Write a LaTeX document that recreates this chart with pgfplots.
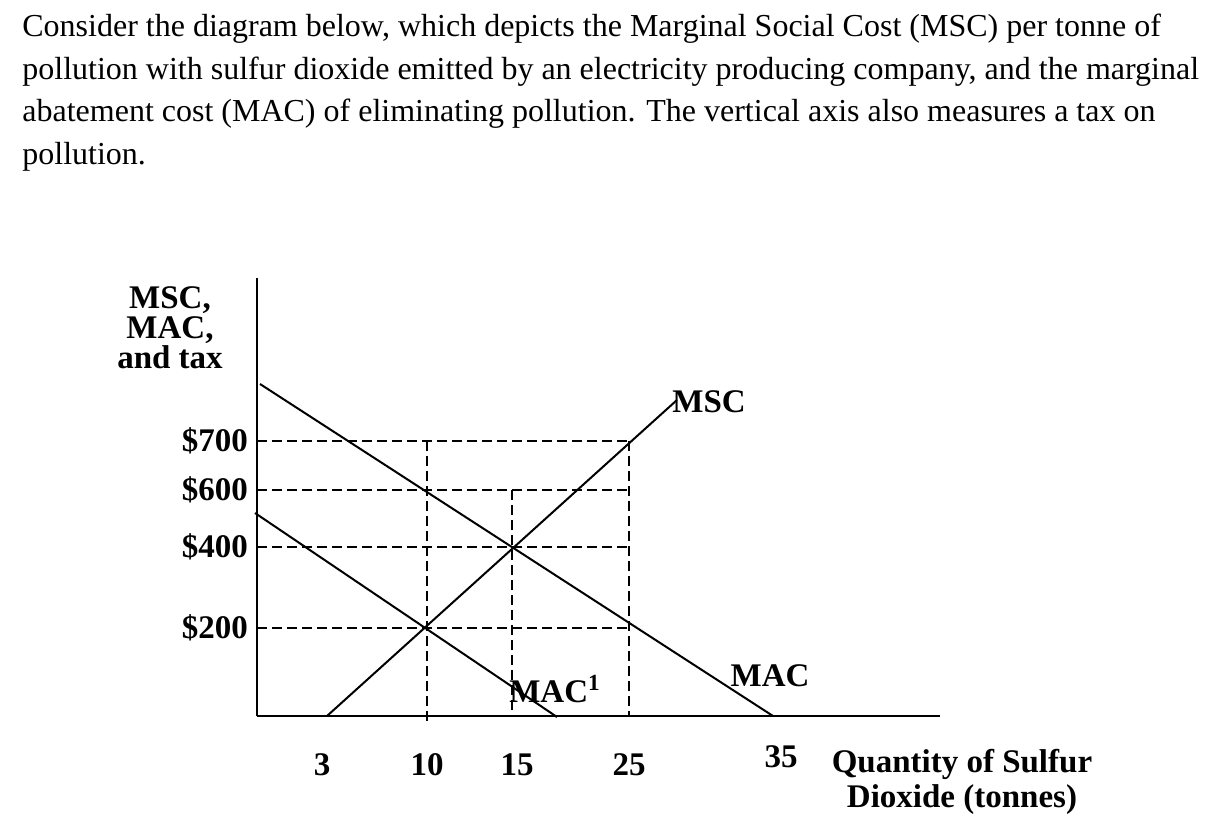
\documentclass[border=0pt]{standalone}
\usepackage{fontspec}
\setmainfont{Liberation Serif}
\usepackage{pgfplots}
\pgfplotsset{compat=1.18}

% the diagram is not to scale: coordinates are picture units (1 unit = 0.5pt),
% tick labels carry the real values
\begin{document}
\begin{tikzpicture}
\path[use as bounding box] (-128.5pt,-57pt) rectangle (478.5pt,358pt);

% question text
\begin{scope}[every node/.style={anchor=base west, inner sep=0pt, font=\fontsize{16}{20}\selectfont}]
\node at (-117.5pt,339.5pt) {Consider the diagram below, which depicts the Marginal Social Cost (MSC) per tonne of};
\node at (-117.5pt,318pt) {pollution with sulfur dioxide emitted by an electricity producing company, and the marginal};
\node at (-117.5pt,297pt) {abatement cost (MAC) of eliminating pollution. The vertical axis also measures a tax on};
\node at (-117.5pt,275.5pt) {pollution.};
\end{scope}

\begin{axis}[
    anchor=origin, at={(0pt,0pt)},
    x=0.5pt, y=0.5pt,
    xmin=0, xmax=683, ymin=0, ymax=438,
    axis lines*=left,
    axis line style={line width=1.2pt},
    clip=false,
    xtick={65,170,260,372},
    xticklabels={3,10,15,25},
    ytick={88,169,226,275},
    yticklabels={\$200,\$400,\$600,\$700},
    major tick length=0pt,
    tick label style={font=\fontsize{16.5}{18}\selectfont\bfseries},
    x tick label style={anchor=center, yshift=-24.5pt},
    y tick label style={anchor=east, xshift=-1pt},
    extra x ticks={524},
    extra x tick labels={35},
    extra x tick style={tick label style={yshift=4pt}},
]
% dashed guide lines
\addplot[black, line width=1pt, dash pattern=on 5pt off 2.5pt] coordinates {(0,275) (372,275)};
\addplot[black, line width=1pt, dash pattern=on 5pt off 2.5pt] coordinates {(0,226) (372,226)};
\addplot[black, line width=1pt, dash pattern=on 5pt off 2.5pt] coordinates {(0,169) (372,169)};
\addplot[black, line width=1pt, dash pattern=on 5pt off 2.5pt] coordinates {(0,88) (372,88)};
\addplot[black, line width=1pt, dash pattern=on 5pt off 2.5pt] coordinates {(170,275) (170,-6)};
\addplot[black, line width=1pt, dash pattern=on 5pt off 2.5pt] coordinates {(255,226) (255,0)};
\addplot[black, line width=1pt, dash pattern=on 5pt off 2.5pt] coordinates {(372,275) (372,0)};

% curves
\addplot[black, solid, line width=1pt] coordinates {(3,332) (516,0)};      % MAC
\addplot[black, solid, line width=1pt] coordinates {(-2,203) (300,-1)};    % MAC1
\addplot[black, solid, line width=1pt] coordinates {(70,0) (420,316)};     % MSC

\begin{scope}[every node/.style={font=\fontsize{16.5}{18}\selectfont\bfseries, inner sep=0pt}]
\node[anchor=base west] at (axis cs:415,303) {MSC};
\node at (axis cs:513,40) {MAC};
\node at (axis cs:298,27) {MAC\textsuperscript{1}};
\node[align=center, font=\fontsize{16.5}{15}\selectfont\bfseries] at (axis cs:-87,388) {MSC,\\MAC,\\and tax};
\node[align=center, font=\fontsize{16.5}{17.5}\selectfont\bfseries] at (axis cs:705,-66) {Quantity of Sulfur\\Dioxide (tonnes)};
\end{scope}
\end{axis}
\end{tikzpicture}
\end{document}
